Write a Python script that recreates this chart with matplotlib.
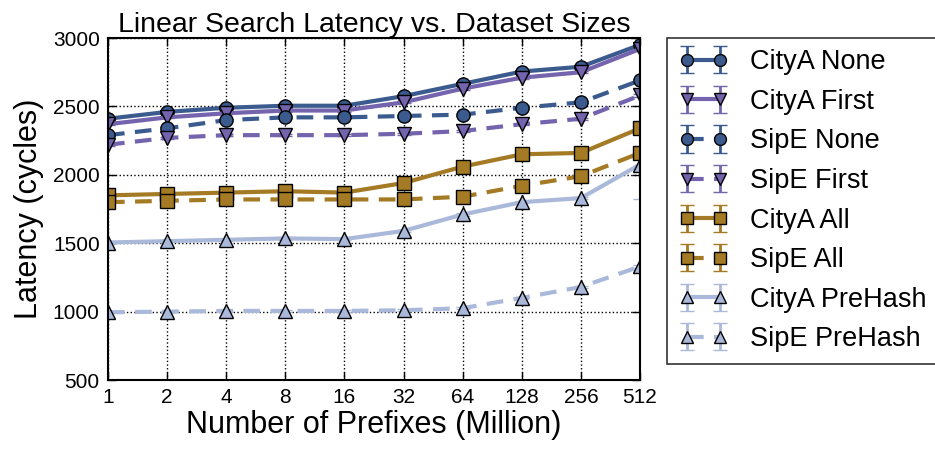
import matplotlib
matplotlib.use("Agg")
import matplotlib.pyplot as plt
import numpy as np

plt.rcParams['font.family'] = ['Liberation Sans', 'DejaVu Sans']

sizes = ['1', '2', '4', '8', '16', '32', '64', '128', '256', '512']

city_none = [2410, 2460, 2490, 2505, 2505, 2575, 2665, 2755, 2790, 2950]
city_first = [2370, 2420, 2450, 2470, 2470, 2530, 2630, 2710, 2750, 2920]
sip_none = [2290, 2340, 2400, 2420, 2420, 2430, 2440, 2490, 2530, 2690]
sip_first = [2220, 2270, 2290, 2290, 2290, 2300, 2320, 2370, 2410, 2580]
city_all = [1850, 1860, 1870, 1880, 1870, 1940, 2060, 2150, 2160, 2340]
sip_all = [1800, 1810, 1820, 1820, 1820, 1820, 1840, 1920, 1990, 2160]
city_prehash = [1505, 1515, 1525, 1535, 1530, 1590, 1710, 1800, 1830, 2075]
sip_prehash = [995, 1000, 1005, 1005, 1005, 1010, 1025, 1100, 1180, 1330]
errs = [8, 8, 8, 8, 8, 8, 8, 8, 8, 10]
city_prehash_err = [8, 8, 8, 8, 8, 8, 8, 8, 8, 255]

dark_blue = '#3b5b8e'
purple = '#7463ad'
gold = '#a47a24'
light_blue = '#aab9da'

series = [
    ('CityA None', city_none, errs, dark_blue, 'o', '-'),
    ('CityA First', city_first, errs, purple, 'v', '-'),
    ('SipE None', sip_none, errs, dark_blue, 'o', '--'),
    ('SipE First', sip_first, errs, purple, 'v', '--'),
    ('CityA All', city_all, errs, gold, 's', '-'),
    ('SipE All', sip_all, errs, gold, 's', '--'),
    ('CityA PreHash', city_prehash, city_prehash_err, light_blue, '^', '-'),
    ('SipE PreHash', sip_prehash, errs, light_blue, '^', '--'),
]

fig = plt.figure(figsize=(9.35, 4.51), dpi=100)
ax = fig.add_axes([0.1155, 0.1574, 0.569, 0.7583])

x = np.arange(len(sizes))
for label, vals, err, color, marker, ls in series:
    ax.errorbar(x, vals, yerr=err, color=color, linestyle=ls, linewidth=3,
                marker=marker, markersize=9.5, markeredgecolor='black',
                markerfacecolor=color, markeredgewidth=1, capsize=5,
                capthick=2, elinewidth=2, label=label,
                dashes=(4, 2.5) if ls == '--' else (None, None))

ax.set_xlim(0, len(sizes) - 1)
ax.set_ylim(500, 3000)
ax.set_xticks(x)
ax.set_xticklabels(sizes)
ax.set_yticks([500, 1000, 1500, 2000, 2500, 3000])
ax.tick_params(direction='in', top=True, right=True, labelsize=15, length=6, width=1, pad=6)
ax.grid(True, color='black', linestyle=':', linewidth=1)
for s in ax.spines.values():
    s.set_linewidth(1.5)

ax.set_title('Linear Search Latency vs. Dataset Sizes', fontsize=20.5, pad=4)
ax.set_xlabel('Number of Prefixes (Million)', fontsize=22, labelpad=2)
ax.set_ylabel('Latency (cycles)', fontsize=22, labelpad=6)

leg = ax.legend(loc='upper left', bbox_to_anchor=(0.7134, 0.9157), bbox_transform=fig.transFigure,
                borderaxespad=0, numpoints=2, fontsize=19.5, markerscale=0.9, frameon=True,
                fancybox=False, edgecolor='black', handlelength=1.85, handletextpad=0.8,
                labelspacing=0.5, borderpad=0.42)
leg.get_frame().set_linewidth(1.2)

fig.savefig('out.png', dpi=100)
